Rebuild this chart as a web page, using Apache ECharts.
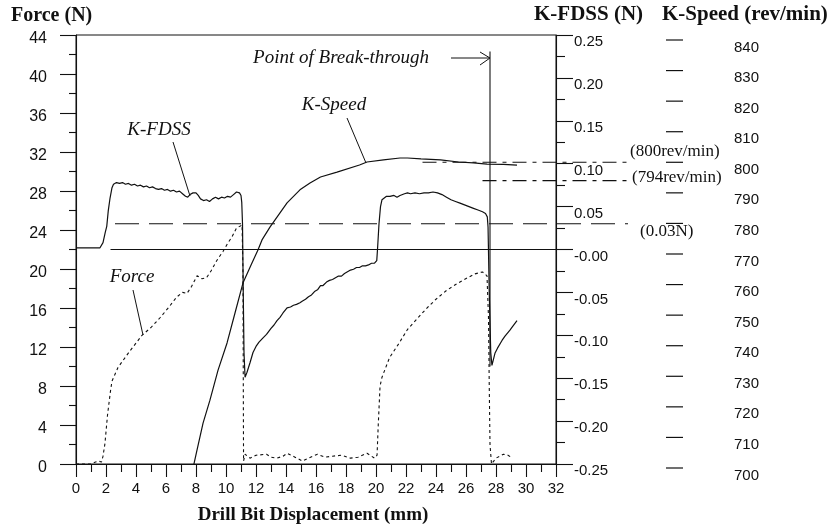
<!DOCTYPE html>
<html>
<head>
<meta charset="utf-8">
<script src="https://cdn.jsdelivr.net/npm/echarts@6/dist/echarts.min.js"></script>
<style>
  html, body { margin: 0; padding: 0; background: #fff; }
  #chart { width: 833px; height: 528px; }
</style>
</head>
<body>
<div id="chart"></div>
<script>
// Drill bit displacement (mm) against thrust force (N)
const forceX = [0, 1.0, 1.3, 1.5, 1.7, 1.8, 1.93, 2.1, 2.3, 2.4, 2.8, 3.5, 4.4, 5.0, 5.6, 6.2, 6.7, 7.1, 7.4, 7.7,
  8.07, 8.4, 8.7, 9.0, 9.4, 9.8, 10.1, 10.4, 10.7, 11.07, 11.13, 11.15, 11.17, 11.27, 11.6, 12.0, 12.7, 13.0, 13.4,
  13.8, 14.07, 14.6, 15.1, 15.5, 16.1, 16.6, 17.1, 17.7, 18.3, 18.8, 19.4, 19.9, 20.07, 20.15, 20.27, 20.4, 20.9,
  21.5, 22.1, 22.8, 23.4, 24.0, 24.7, 25.4, 26.1, 26.6, 27.1, 27.4, 27.5, 27.55, 27.6, 27.7, 28.0, 28.5, 28.8, 29.1];
const forceN = [0, 0, 0.2, 0.3, 0.2, 0.8, 2.1, 5.0, 7.5, 8.5, 9.9, 11.4, 13.2, 14.0, 15.0, 16.1, 17.1, 17.6, 17.5, 18.2,
  19.3, 19.0, 19.1, 19.8, 20.9, 21.8, 22.6, 23.3, 24.2, 24.5, 20.0, 10.0, 0.3, 1.0, 0.6, 0.9, 1.0, 0.7, 0.6,
  0.8, 1.1, 0.7, 0.3, 0.6, 1.0, 0.7, 0.8, 0.9, 0.6, 0.7, 1.1, 0.6, 0.9, 4.0, 8.0, 8.9, 10.9,
  12.3, 13.8, 15.0, 16.0, 16.9, 17.8, 18.5, 19.1, 19.5, 19.7, 19.3, 15.0, 8.0, 2.0, 0, 0.6, 1.0, 0.9, 0.6];

// K-FDSS (N)
const fdssX = [0, 1.0, 1.6, 1.8, 1.95, 2.05, 2.15, 2.27, 2.4, 2.5, 2.7, 2.9, 3.1, 3.3, 3.5, 3.7, 3.9, 4.1, 4.3, 4.5,
  4.7, 4.9, 5.1, 5.3, 5.5, 5.7, 5.9, 6.1, 6.3, 6.5, 6.7, 6.9, 7.1, 7.3, 7.45, 7.6, 7.8, 8.0, 8.15, 8.3, 8.5, 8.7,
  8.9, 9.1, 9.3, 9.5, 9.7, 9.9, 10.1, 10.3, 10.5, 10.7, 10.9, 11.0, 11.05, 11.1, 11.15, 11.2, 11.27, 11.4, 11.6,
  11.8, 12.0, 12.2, 12.47, 12.7, 13.0, 13.2, 13.4, 13.6, 13.8, 14.07, 14.3, 14.5, 14.7, 14.93, 15.1, 15.3, 15.5,
  15.7, 15.9, 16.1, 16.3, 16.47, 16.7, 16.9, 17.1, 17.3, 17.5, 17.7, 17.9, 18.1, 18.3, 18.5, 18.7, 18.9, 19.1,
  19.3, 19.5, 19.7, 19.9, 20.05, 20.1, 20.2, 20.3, 20.4, 20.47, 20.7, 20.93, 21.2, 21.4, 21.6, 21.9, 22.1, 22.3,
  22.6, 22.9, 23.2, 23.5, 23.8, 24.1, 24.4, 24.7, 25.0, 25.3, 25.6, 25.9, 26.2, 26.5, 26.8, 27.1, 27.3, 27.42,
  27.47, 27.55, 27.65, 27.73, 27.8, 27.93, 28.1, 28.4, 28.6, 28.93, 29.1, 29.4];
const fdssN = [0.002, 0.002, 0.002, 0.008, 0.02, 0.027, 0.045, 0.06, 0.072, 0.076, 0.078, 0.077, 0.078, 0.076, 0.077,
  0.075, 0.076, 0.074, 0.075, 0.073, 0.074, 0.072, 0.073, 0.071, 0.070, 0.071, 0.069, 0.070, 0.068, 0.069, 0.067,
  0.068, 0.065, 0.062, 0.061, 0.064, 0.066, 0.066, 0.063, 0.059, 0.057, 0.058, 0.056, 0.059, 0.061, 0.059, 0.061,
  0.060, 0.062, 0.061, 0.064, 0.067, 0.066, 0.063, 0.055, 0.03, -0.05, -0.12, -0.149, -0.143, -0.132, -0.120,
  -0.113, -0.108, -0.103, -0.099, -0.092, -0.088, -0.083, -0.079, -0.074, -0.068, -0.067, -0.065, -0.064, -0.062,
  -0.060, -0.058, -0.055, -0.053, -0.049, -0.047, -0.042, -0.042, -0.038, -0.036, -0.035, -0.033, -0.031, -0.031,
  -0.028, -0.026, -0.024, -0.023, -0.021, -0.021, -0.019, -0.019, -0.018, -0.016, -0.016, -0.013, 0.0, 0.03, 0.05,
  0.058, 0.060, 0.062, 0.062, 0.063, 0.061, 0.063, 0.065, 0.066, 0.065, 0.066, 0.065, 0.066, 0.066, 0.067, 0.066,
  0.064, 0.061, 0.058, 0.056, 0.054, 0.052, 0.050, 0.048, 0.046, 0.044, 0.042, 0.038, 0.026, -0.05, -0.12, -0.135,
  -0.130, -0.121, -0.115, -0.106, -0.101, -0.094, -0.090, -0.083];

// K-Speed (rev/min)
const speedX = [7.85, 8.07, 8.47, 8.93, 9.47, 10.07, 10.6, 11.13, 11.67, 12.13, 12.4, 12.93, 14.07, 14.93, 15.6,
  16.3, 17.4, 18.9, 19.4, 20.5, 21.6, 22.1, 23.0, 24.3, 25.5, 26.5, 27.4, 28.5, 29.4];
const speedRpm = [701, 705.9, 714.7, 722.2, 732, 740.9, 750.7, 760.5, 766.4, 771.3, 774.6, 778.8, 786.7, 791, 793.2,
  795.2, 796.8, 799.1, 800.1, 800.8, 801.4, 801.4, 801.1, 800.8, 800.1, 799.8, 799.4, 799.3, 799.1];

// K-Speed scale ticks (rev/min)
const speedTicks = [700, 710, 720, 730, 740, 750, 760, 770, 780, 790, 800, 810, 820, 830, 840];

// Reference levels named in the annotations
const breakThroughX = 27.6;
const speedRefHigh = 800;
const speedRefLow = 794;
const fdssRef = 0.03;
const fdssZero = 0;

// Extents of the reference lines along the displacement axis (some run past the frame)
const breakLineSpan = [42.3, 10];
const speedHighSpan = [23.1, 36.8];
const speedLowSpan = [27.1, 36.8];
const fdssRefSpan = [2.6, 36.8];
const fdssZeroSpan = [2.3, 32];

const pairs = (xs, ys) => xs.map((x, i) => [x, ys[i]]);

const SANS = '"Liberation Sans", Arial, sans-serif';
const SERIF = '"Liberation Serif", "Times New Roman", serif';
const INK = '#111';

const tickStyle = { color: INK, width: 1.1 };

// Plot frame geometry: 15 px per mm along the displacement axis
const FRAME = { left: 76, top: 35, width: 480, height: 429 };
const SPEED_FRAME = { left: 76, top: 40, width: 480, height: 428 };
const WIDE_X_MAX = 40; // hidden wider axes let the reference lines run out to the right-hand notes
const SPEED_AXIS_OFFSET = 110; // distance of the K-Speed scale from the frame's right edge
const SPEED_DASH = 17;

const chart = echarts.init(document.getElementById('chart'), null, { renderer: 'canvas' });

function txt(text, x, y, font, align) {
  return {
    type: 'text', silent: true,
    style: {
      text, x, y, font, fill: INK,
      align: align || 'left', verticalAlign: 'middle',
      textAlign: align || 'left', textVerticalAlign: 'middle'
    }
  };
}
function seg(x1, y1, x2, y2) {
  return { type: 'line', silent: true, shape: { x1, y1, x2, y2 }, style: { stroke: INK, lineWidth: 1 } };
}

const wideWidth = FRAME.width * WIDE_X_MAX / 32;

const option = {
  animation: false,
  backgroundColor: '#fff',
  grid: [
    Object.assign({ show: true, borderColor: INK, borderWidth: 1, backgroundColor: 'transparent' }, FRAME),
    Object.assign({ show: false }, SPEED_FRAME),
    { left: FRAME.left, top: FRAME.top, width: wideWidth, height: FRAME.height, show: false },
    { left: SPEED_FRAME.left, top: SPEED_FRAME.top, width: wideWidth, height: SPEED_FRAME.height, show: false }
  ],
  xAxis: [
    {
      gridIndex: 0, type: 'value', min: 0, max: 32, interval: 2,
      axisLine: { show: true, lineStyle: { color: INK, width: 1.1 } },
      axisTick: { show: true, length: 13, lineStyle: tickStyle },
      minorTick: { show: true, splitNumber: 2, length: 8, lineStyle: tickStyle },
      splitLine: { show: false },
      axisLabel: { color: INK, fontFamily: SANS, fontSize: 15, margin: 17 }
    },
    { gridIndex: 1, type: 'value', min: 0, max: 32, show: false },
    { gridIndex: 2, type: 'value', min: 0, max: WIDE_X_MAX, show: false },
    { gridIndex: 3, type: 'value', min: 0, max: WIDE_X_MAX, show: false }
  ],
  yAxis: [
    {
      gridIndex: 0, type: 'value', position: 'left', min: 0, max: 44, interval: 4,
      axisLine: { show: true, lineStyle: { color: INK, width: 1.1 } },
      axisTick: { show: true, length: 16, lineStyle: tickStyle },
      minorTick: { show: true, splitNumber: 2, length: 7, lineStyle: tickStyle },
      splitLine: { show: false },
      axisLabel: { color: INK, fontFamily: SANS, fontSize: 16, margin: 29, verticalAlign: 'top', lineHeight: 8 }
    },
    {
      gridIndex: 0, type: 'value', position: 'right', min: -0.25, max: 0.25, interval: 0.05,
      axisLine: { show: true, lineStyle: { color: INK, width: 1.1 } },
      axisTick: { show: true, length: 17, lineStyle: tickStyle },
      minorTick: { show: true, splitNumber: 2, length: 9, lineStyle: tickStyle },
      splitLine: { show: false },
      axisLabel: {
        color: INK, fontFamily: SANS, fontSize: 15, margin: 18, align: 'left',
        verticalAlign: 'top', lineHeight: 14,
        formatter: v => (Math.abs(v) < 1e-9 ? '-0.00' : v.toFixed(2))
      }
    },
    {
      // K-Speed scale values; the dashes are drawn by the custom series below
      gridIndex: 1, type: 'value', position: 'right', offset: SPEED_AXIS_OFFSET, min: 700, max: 840, interval: 10,
      axisLine: { show: false },
      axisTick: { show: false },
      splitLine: { show: false },
      axisLabel: {
        color: INK, fontFamily: SANS, fontSize: 15, margin: 68, align: 'left',
        verticalAlign: 'top', lineHeight: 15
      }
    },
    { gridIndex: 2, type: 'value', min: -0.25, max: 0.25, show: false },
    { gridIndex: 3, type: 'value', min: 700, max: 840, show: false }
  ],
  series: [
    {
      name: 'Force', type: 'line', xAxisIndex: 0, yAxisIndex: 0, symbol: 'none',
      lineStyle: { color: INK, width: 1.1, type: [3, 3] },
      data: pairs(forceX, forceN)
    },
    {
      name: 'K-FDSS', type: 'line', xAxisIndex: 0, yAxisIndex: 1, symbol: 'none',
      lineStyle: { color: INK, width: 1.2 },
      data: pairs(fdssX, fdssN)
    },
    {
      name: 'K-Speed', type: 'line', xAxisIndex: 1, yAxisIndex: 2, symbol: 'none',
      lineStyle: { color: INK, width: 1.2 },
      data: pairs(speedX, speedRpm)
    },
    {
      // free-standing dashes of the K-Speed scale, placed through the speed axis
      name: 'speed-scale', type: 'custom', xAxisIndex: 1, yAxisIndex: 2, clip: false, silent: true,
      data: speedTicks.map(v => [32, v]),
      renderItem: (params, api) => {
        const p = api.coord([api.value(0), api.value(1)]);
        const x0 = p[0] + SPEED_AXIS_OFFSET;
        return {
          type: 'line',
          shape: { x1: x0, y1: p[1], x2: x0 + SPEED_DASH, y2: p[1] },
          style: { stroke: INK, lineWidth: 1.2 }
        };
      }
    },
    {
      name: 'break-through', type: 'line', xAxisIndex: 0, yAxisIndex: 0, symbol: 'none',
      lineStyle: { color: INK, width: 1.1 },
      data: breakLineSpan.map(f => [breakThroughX, f])
    },
    {
      name: 'zero', type: 'line', xAxisIndex: 0, yAxisIndex: 1, symbol: 'none',
      lineStyle: { color: INK, width: 1.1 },
      data: fdssZeroSpan.map(x => [x, fdssZero])
    },
    {
      name: '0.03N', type: 'line', xAxisIndex: 2, yAxisIndex: 3, symbol: 'none',
      lineStyle: { color: INK, width: 1.1, type: [24, 10] },
      data: fdssRefSpan.map(x => [x, fdssRef])
    },
    {
      name: '800rev/min', type: 'line', xAxisIndex: 3, yAxisIndex: 4, symbol: 'none',
      lineStyle: { color: INK, width: 1.1, type: [14, 6, 4, 6] },
      data: speedHighSpan.map(x => [x, speedRefHigh])
    },
    {
      name: '794rev/min', type: 'line', xAxisIndex: 3, yAxisIndex: 4, symbol: 'none',
      lineStyle: { color: INK, width: 1.1, type: [14, 6, 4, 6] },
      data: speedLowSpan.map(x => [x, speedRefLow])
    }
  ],
  graphic: [
    txt('Force (N)', 11, 16, 'bold 20px ' + SERIF),
    txt('K-FDSS (N)', 534, 15, 'bold 21px ' + SERIF),
    txt('K-Speed (rev/min)', 662, 15, 'bold 21px ' + SERIF),
    txt('Drill Bit Displacement (mm)', 313, 515, 'bold 19px ' + SERIF, 'center'),
    txt('Point of Break-through', 429, 58, 'italic 19px ' + SERIF, 'right'),
    txt('K-Speed', 334, 105, 'italic 19px ' + SERIF, 'center'),
    txt('K-FDSS', 159, 130, 'italic 19px ' + SERIF, 'center'),
    txt('Force', 132, 277, 'italic 19px ' + SERIF, 'center'),
    txt('(800rev/min)', 630, 152, '17px ' + SERIF),
    txt('(794rev/min)', 632, 178, '17px ' + SERIF),
    txt('(0.03N)', 640, 232, '17px ' + SERIF),
    seg(173, 142, 190, 196),
    seg(347, 118, 366, 163),
    seg(133, 290, 143, 335),
    seg(451, 58, 490, 58),
    { type: 'polyline', silent: true, shape: { points: [[480, 52], [490, 58], [480, 65]] }, style: { stroke: INK, fill: null, lineWidth: 1 } }
  ]
};

chart.setOption(option);
</script>
</body>
</html>
